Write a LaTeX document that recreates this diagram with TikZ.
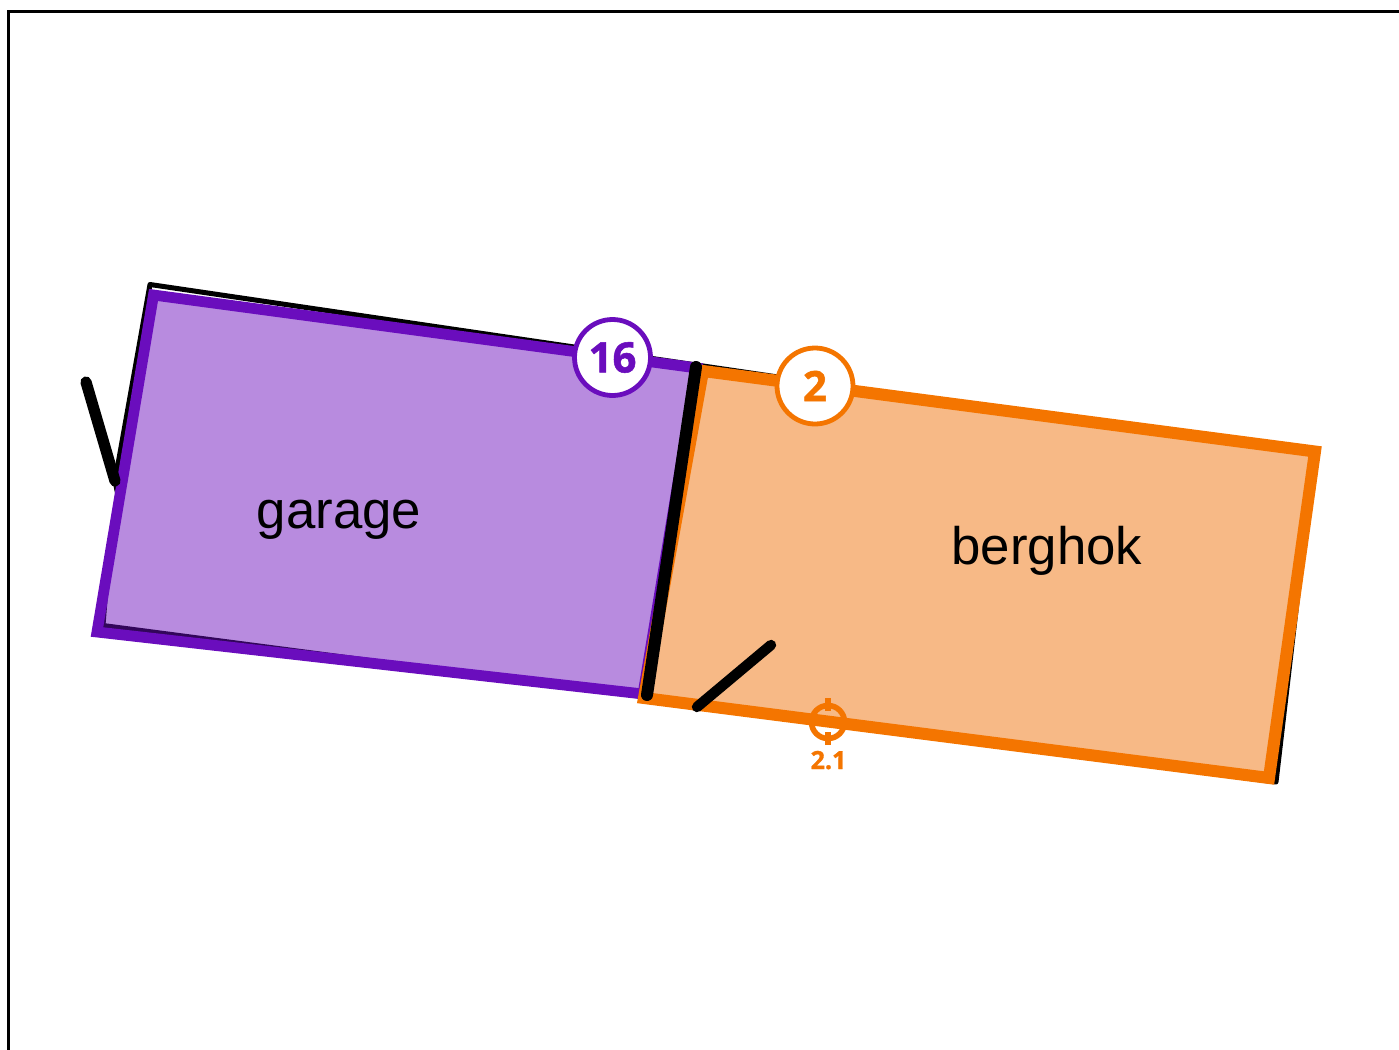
\documentclass[tikz,border=0pt]{standalone}
\usepackage{fontspec}
\setmainfont{Liberation Sans}
\newfontfamily\badgefont{Open Sans}[BoldFeatures={FakeBold=1.2}]
\definecolor{garagepurple}{HTML}{6A0DBD}
\definecolor{berghokorange}{HTML}{F47500}
\definecolor{berghokfill}{HTML}{F7B986}
\tikzset{
	wall/.style={line width=2.5pt, black},
	door/.style={line width=5.6pt, black, line cap=round},
	room/.style={line width=5.4pt},
	badge/.style={circle, draw, fill=white, line width=2.4pt, minimum size=38pt, inner sep=0pt, font=\badgefont\bfseries\fontsize{21}{21}\selectfont},
	roomlabel/.style={anchor=base, font=\fontsize{26.4}{26.4}\selectfont}
}
\begin{document}
\begin{tikzpicture}[x=0.5pt, y=-0.5pt]
	\useasboundingbox (0, 0) rectangle (1399, 1050);
	
	\coordinate (F1) at (8.5, 1050);
	\coordinate (F2) at (8.5, 11);
	\coordinate (F3) at (1399, 11);
	\draw[line width=1.5pt] (F1) -- (F2) -- (F3);
	
	% outline of the walls
	\coordinate (W1) at (150, 284.5);
	\coordinate (W2) at (1314, 456);
	\coordinate (W3) at (1276, 782);
	\coordinate (W4) at (640, 696);
	\coordinate (W5) at (103, 625.5);
	\coordinate (W6) at (107, 575);
	\coordinate (W7) at (119, 500);
	\coordinate (W8) at (115, 481);
	\draw[wall, line join=round] (W1) -- (W2) -- (W3) -- (W4) -- (W5) -- (W6) -- (W7) -- (W8) -- cycle;
	
	\coordinate (G1) at (153.5, 295);
	\coordinate (G2) at (697, 368);
	\coordinate (G3) at (643, 694);
	\coordinate (G4) at (97, 632);
	\fill[garagepurple, fill opacity=0.48] (G1) -- (G2) -- (G3) -- (G4) -- cycle;
	\draw[room, garagepurple] (G1) -- (G2) -- (G3) -- (G4) -- cycle;
	
	\coordinate (B1) at (703, 371);
	\coordinate (B2) at (1315, 451.5);
	\coordinate (B3) at (1269, 778);
	\coordinate (B4) at (644, 698);
	\fill[berghokfill] (B1) -- (B2) -- (B3) -- (B4) -- cycle;
	\draw[room, berghokorange, line width=6pt] (B1) -- (B2) -- (B3) -- (B4) -- cycle;
	
	% doors
	\coordinate (D1a) at (86, 382);
	\coordinate (D1b) at (115, 481);
	\coordinate (D2a) at (696, 367);
	\coordinate (D2b) at (647, 695);
	\coordinate (D3a) at (771, 645);
	\coordinate (D3b) at (697, 707);
	\draw[door] (D1a) -- (D1b);
	\draw[door, line width=6pt] (D2a) -- (D2b);
	\draw[door, line width=5.2pt] (D3a) -- (D3b);
	
	\node[roomlabel] (garage) at (339, 528) {garage};
	\node[roomlabel] (berghok) at (1047, 564) {berghok};
	
	\node[badge, draw=garagepurple, text=garagepurple] (b16) at (612.5, 357.5) {16};
	\node[badge, draw=berghokorange, text=berghokorange] (b2) at (815, 386) {2};
	
	% sensor on the lower wall
	\coordinate (S) at (828, 722);
	\coordinate (St) at (828, 698);
	\coordinate (Sb) at (828, 745);
	\draw[berghokorange, line width=2.8pt] (S) circle (16.5);
	\draw[berghokorange, line width=2.6pt] (St) -- ++(0, 13);
	\draw[berghokorange, line width=2.6pt] (Sb) -- ++(0, -13);
	\node[anchor=base, text=berghokorange, font=\badgefont\bfseries\fontsize{12.5}{12.5}\selectfont] (s21) at (828.5, 769) {2.1};
\end{tikzpicture}
\end{document}
